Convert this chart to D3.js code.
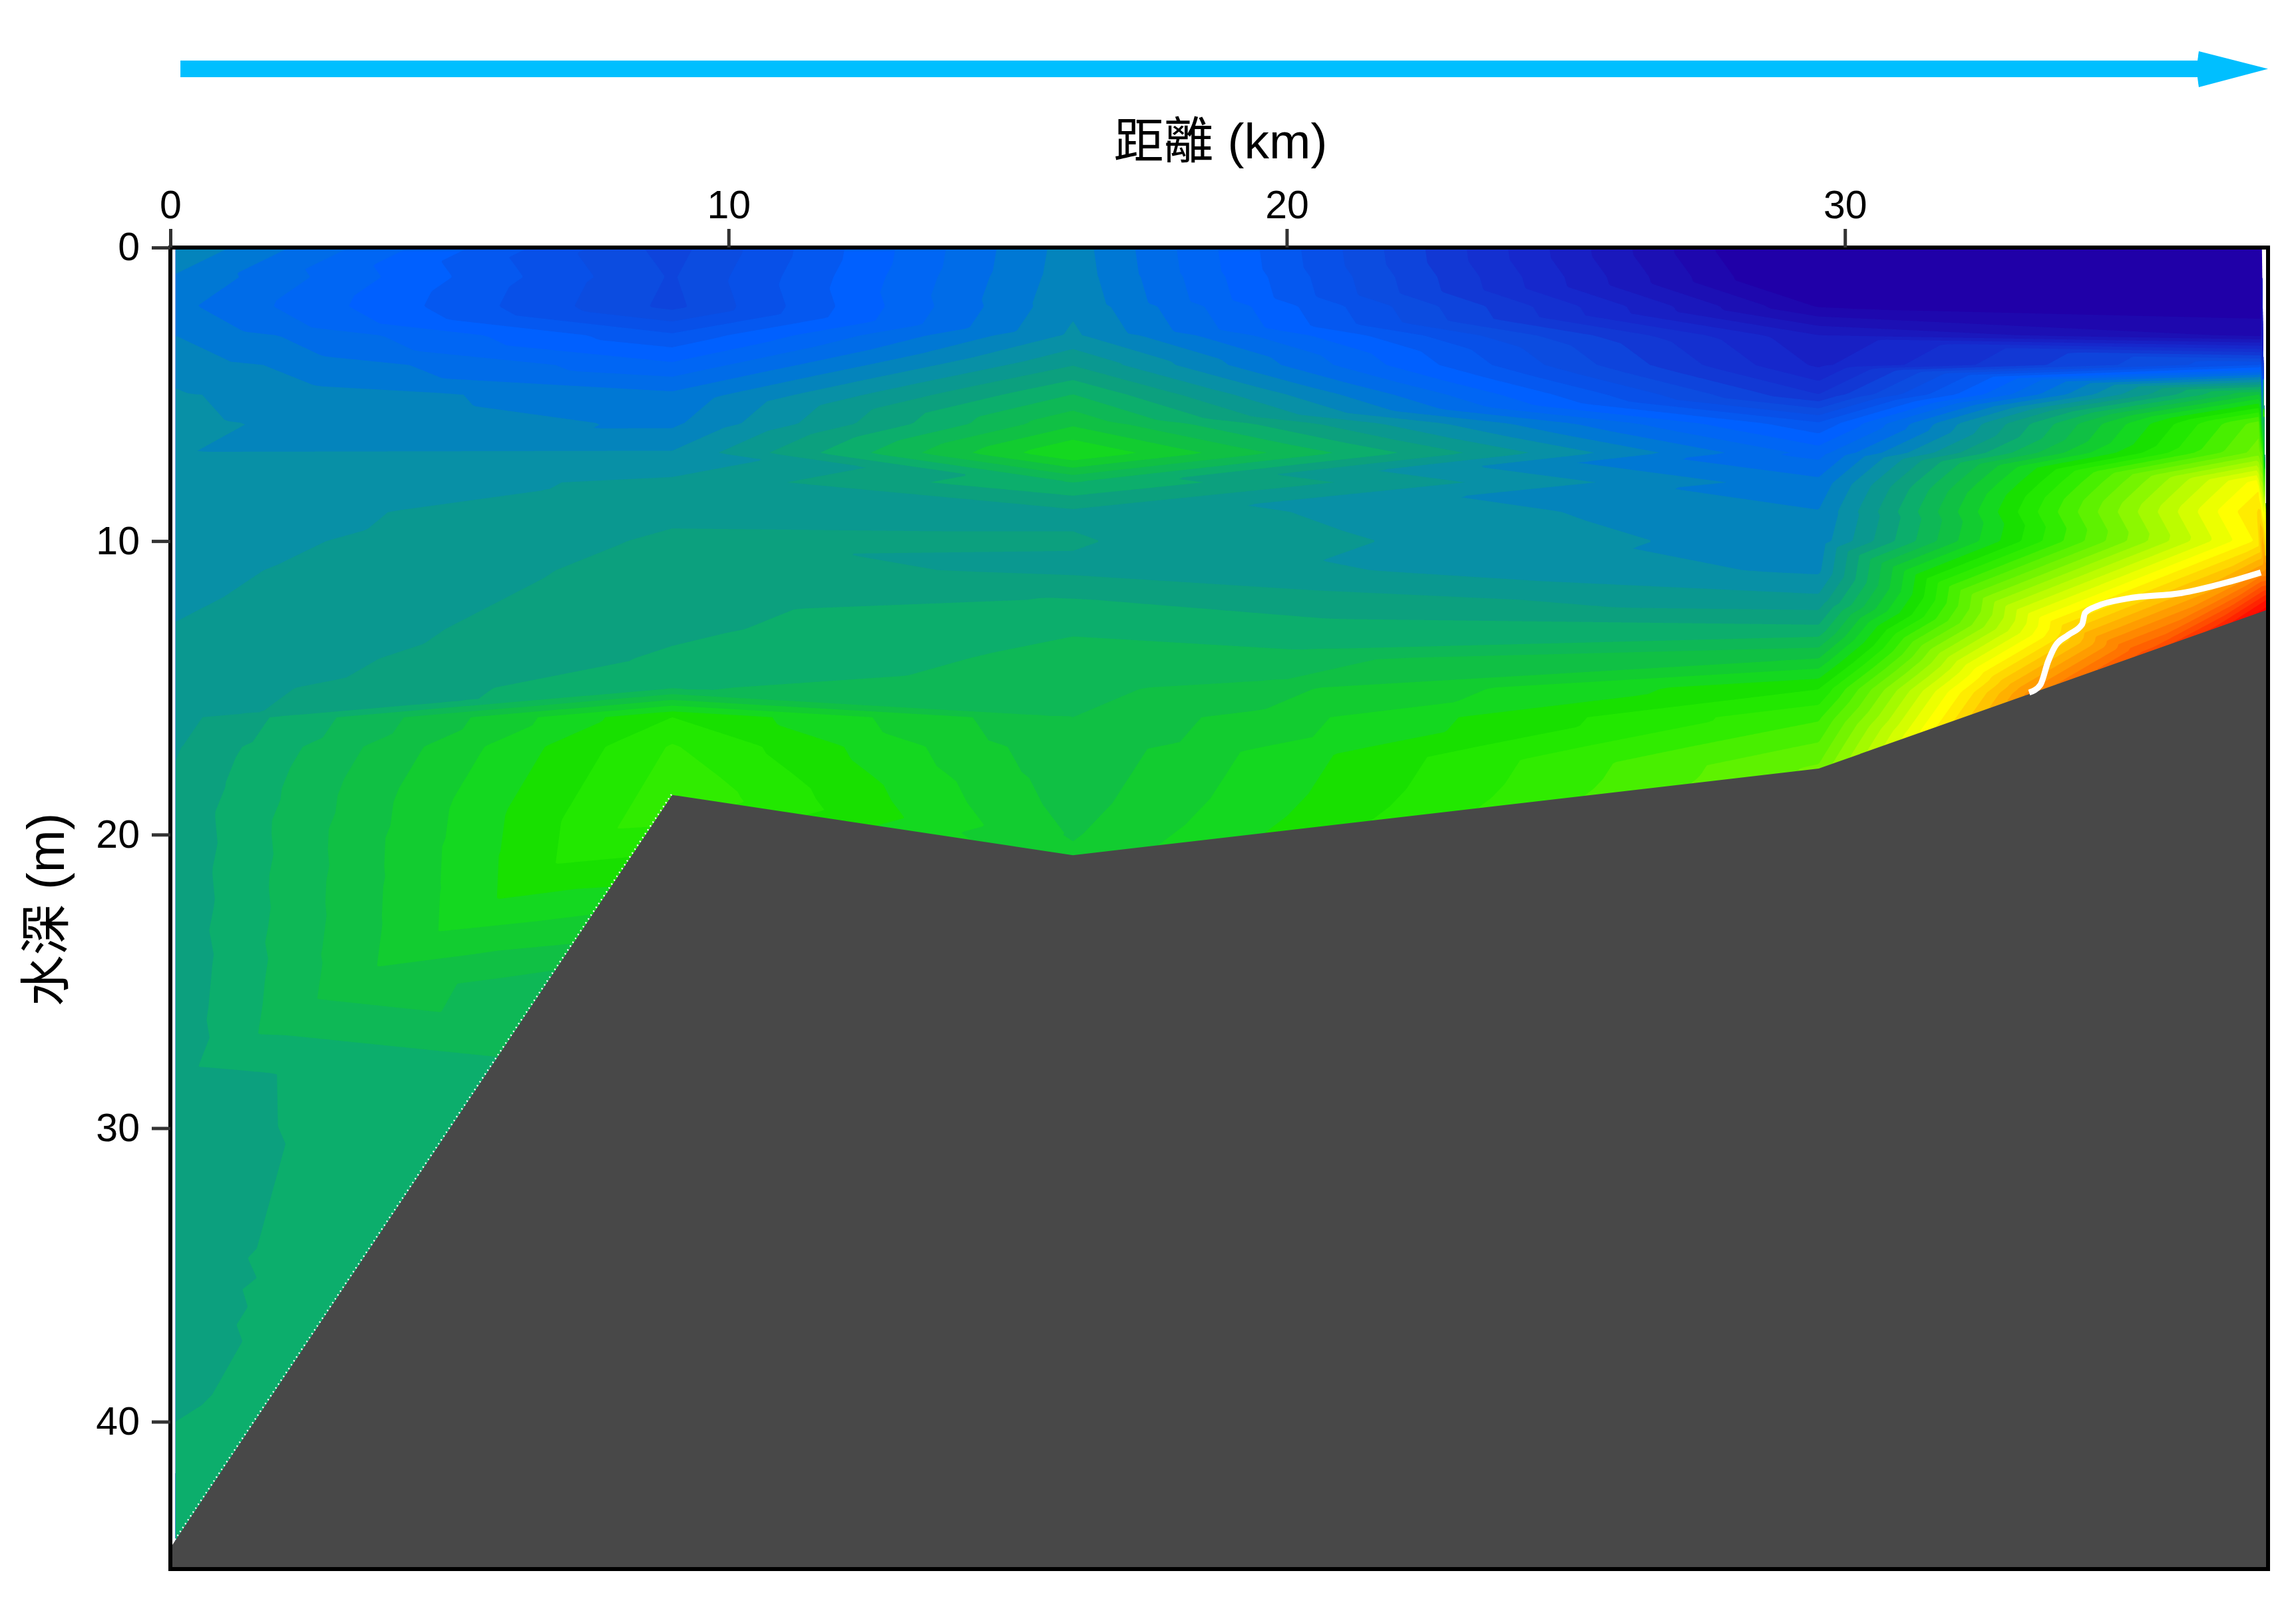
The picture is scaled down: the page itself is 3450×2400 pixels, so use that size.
<!DOCTYPE html>
<html>
<head>
<meta charset="utf-8">
<script src="https://cdn.jsdelivr.net/npm/d3@7"></script>
<style>
  body { margin: 0; background: #fff; }
  text { font-family: "Liberation Sans", "Noto Sans CJK TC", sans-serif; fill: #000; }
</style>
</head>
<body>
<div id="chart"></div>
<script>
// profile readings, one value per metre of depth starting at 0 m (band number of the colour scale)
const station1 = [16.9,15.9,15.3,16.0,16.6,17.1,17.2,17.05,17.3,17.4,17.5,17.7,17.85,18.05,18.2,18.4,18.6,18.9,19.1,19.3,19.25,19.35,19.3,19.4,19.3,19.35,19.4,19.3,19.2,19.5,19.4,19.55,19.5,19.6,19.5,19.65,19.6,19.7,19.65,19.8,20.0,20.2,20.3,20.3,20.3]
const station2 = [8.6,8.9,8.7,11.2,13.2,15.2,15.8,17.1,18.2,18.8,19.15,19.4,19.6,19.8,20.15,20.9,26.0,27.1,27.6]
const station3 = [16.5,16.6,16.8,17.2,18.95,21.0,22.8,25.0,21.0,18.8,19.1,18.8,20.05,20.9,21.3,21.6,22.0,22.2,22.4,22.6,22.9]
const station4 = [-1.5,-1.0,0.9,4.05,4.8,7.0,11.2,13.6,15.3,16.05,16.4,16.8,18.3,20.3,23.0,25.9,27.8,29.2]
const station5 = [0.3,0.3,0.4,1.8,11.0,23.0,29.5,30.5,36.5,38.0,37.2,41.5,48.0]
const stationX = [0.095, 8.99, 16.17, 29.53, 37.47]
const station5X = [37.47,37.47,37.47,37.47,37.44,37.44,37.41,37.41,37.39,37.39,37.39,37.39,37.55]
const bottomDepth = [44.25, 18.65, 20.7, 17.75, 12.37]
const bottomValue = [20.3, 27.9, 23.2, 30.2, 49.5]

// extra readings where the bands turn corners over the slopes
const extraX = [0.5,1.5,1.57,2.63,3.7,4.8,5.85,6.9,8.0, 6.58,6.96,7.28,7.63,7.95,8.3,8.66, 6.0,3.0,1.5, 31.3,33.35,35.4,36.6,37.55]
const extraDepth = [27.9,28.2,26.8,25.6,24.5,23.3,22.2,21.0,19.8, 25.65,24.6,23.7,22.7,21.77,20.75,19.73, 27.6,36.2,40.3, 16.6,15.2,13.85,13.05,11.1]
const extraValue = [20,19.9,21,22,23,24,25,26,27, 21,22,23,24,25,26,27, 21,20.5,20.4, 36,42.5,45.5,47.5,42.5]

// sea floor
const floorX = [0, 8.99, 16.17, 29.53, 37.58]
const floorDepth = [44.3, 18.65, 20.7, 17.75, 12.33]

// white contour near the bottom
const lineX = [33.3,33.5,33.64,33.76,34.0,34.25,34.3,34.54,35.05,36.03,36.86,37.45]
const lineDepth = [15.16,14.9,14.1,13.6,13.2,12.83,12.45,12.2,11.96,11.77,11.4,11.07]

const xTicks = [0, 10, 20, 30]
const yTicks = [0, 10, 20, 30, 40]

const bandColors = ['#2000a8','#1e08ae','#1c10b4','#1a18bc','#1820c4','#1628cc','#1430d0','#1238d4','#0e44dc','#0c4ce0',
  '#0850e8','#0558f0','#0060ff','#0066f4','#006ce8','#0078d4','#0484bc','#0890a6','#0a9890','#0ca07e',
  '#0cae6c','#0eb856','#10c044','#12cc30','#14d820','#18e000','#22e800','#30ec00','#48ef00','#5ef200',
  '#74f400','#8cf800','#a4fa00','#bcfc00','#d4fe00','#ecff00','#ffff00','#ffec00','#ffd800','#ffc400',
  '#ffb000','#ff9c00','#ff8800','#ff7400','#ff6000','#ff4c00','#ff3800','#ff2400','#ff1000','#ff0000']

const svg = d3.select('#chart').append('svg')
  .attr('width', 3450)
  .attr('height', 2400)

const x = d3.scaleLinear().domain([0, 37.58]).range([256, 3408])
const y = d3.scaleLinear().domain([0, 45.02]).range([372, 2358])

// collect all the readings as points
const nodes = []
const stations = [station1, station2, station3, station4, station5]
stations.forEach((vals, s) => {
  vals.forEach((v, depth) => {
    nodes.push([s === 4 ? station5X[depth] : stationX[s], depth, v])
  })
  nodes.push([s === 4 ? 37.55 : stationX[s], bottomDepth[s], bottomValue[s]])
})
extraX.forEach((ex, i) => nodes.push([ex, extraDepth[i], extraValue[i]]))

const delaunay = d3.Delaunay.from(nodes, d => d[0], d => d[1])

// linear interpolation over the triangles onto a grid for d3.contours
const nx = 1100, ny = 800
const dx = 37.58 / (nx - 1), dy = 45.02 / (ny - 1)
const grid = new Float64Array(nx * ny).fill(NaN)
const tri = delaunay.triangles
for (let t = 0; t < tri.length; t += 3) {
  const a = nodes[tri[t]], b = nodes[tri[t + 1]], c = nodes[tri[t + 2]]
  const det = (b[1] - c[1]) * (a[0] - c[0]) + (c[0] - b[0]) * (a[1] - c[1])
  if (Math.abs(det) < 1e-9) continue
  const i0 = Math.floor(Math.min(a[0], b[0], c[0]) / dx), i1 = Math.ceil(Math.max(a[0], b[0], c[0]) / dx)
  const j0 = Math.floor(Math.min(a[1], b[1], c[1]) / dy), j1 = Math.ceil(Math.max(a[1], b[1], c[1]) / dy)
  for (let j = Math.max(j0, 0); j <= Math.min(j1, ny - 1); j++) {
    for (let i = Math.max(i0, 0); i <= Math.min(i1, nx - 1); i++) {
      const px = i * dx, py = j * dy
      const w1 = ((b[1] - c[1]) * (px - c[0]) + (c[0] - b[0]) * (py - c[1])) / det
      const w2 = ((c[1] - a[1]) * (px - c[0]) + (a[0] - c[0]) * (py - c[1])) / det
      const w3 = 1 - w1 - w2
      if (w1 >= -1e-9 && w2 >= -1e-9 && w3 >= -1e-9) grid[i + j * nx] = w1 * a[2] + w2 * b[2] + w3 * c[2]
    }
  }
}
// outside the hull take the nearest reading, the clip hides it
let hint = 0
for (let j = 0; j < ny; j++) {
  for (let i = 0; i < nx; i++) {
    if (isNaN(grid[i + j * nx])) {
      hint = delaunay.find(i * dx, j * dy, hint)
      grid[i + j * nx] = nodes[hint][2]
    }
  }
}

const hull = delaunay.hullPolygon().map(p => [x(p[0]), y(p[1])])
svg.append('clipPath').attr('id', 'hull')
  .append('path')
  .attr('d', d3.line()(hull) + 'Z')

const gridPath = d3.geoPath(d3.geoTransform({
  point(gx, gy) {
    this.stream.point(x((gx - 0.5) * dx), y((gy - 0.5) * dy))
  }
}))

const field = svg.append('g').attr('clip-path', 'url(#hull)')
field.append('rect')
  .attr('x', x(0)).attr('y', y(0))
  .attr('width', x(37.58) - x(0)).attr('height', y(45.02) - y(0))
  .attr('fill', bandColors[0])

const thresholds = d3.range(1, bandColors.length)
const contours = d3.contours().size([nx, ny]).thresholds(thresholds)(grid)
field.selectAll('path.band')
  .data(contours)
  .join('path')
  .attr('class', 'band')
  .attr('d', gridPath)
  .attr('fill', d => bandColors[d.value])

// thin white line shows along the left slope
svg.append('line')
  .attr('x1', x(floorX[0])).attr('y1', y(floorDepth[0]))
  .attr('x2', x(floorX[1])).attr('y2', y(floorDepth[1]))
  .attr('stroke', '#fff')
  .attr('stroke-width', 5)
  .attr('stroke-dasharray', '2 5')

svg.append('path')
  .datum(floorX.map((fx, i) => [fx, floorDepth[i]]))
  .attr('d', d3.area().x(d => x(d[0])).y0(y(45.02)).y1(d => y(d[1])))
  .attr('fill', '#484848')

svg.append('path')
  .datum(lineX.map((lx, i) => [lx, lineDepth[i]]))
  .attr('d', d3.line().x(d => x(d[0])).y(d => y(d[1])).curve(d3.curveMonotoneX))
  .attr('fill', 'none')
  .attr('stroke', '#fff')
  .attr('stroke-width', 9)

// frame
svg.append('rect')
  .attr('x', x(0)).attr('y', y(0))
  .attr('width', x(37.58) - x(0)).attr('height', y(45.02) - y(0))
  .attr('fill', 'none')
  .attr('stroke', '#000')
  .attr('stroke-width', 6)

// axes
const xAxis = svg.append('g')
  .attr('transform', `translate(0,${y(0)})`)
  .call(d3.axisTop(x).tickValues(xTicks).tickSize(28).tickPadding(16))
const yAxis = svg.append('g')
  .attr('transform', `translate(${x(0)},0)`)
  .call(d3.axisLeft(y).tickValues(yTicks).tickSize(28).tickPadding(18))
for (const ax of [xAxis, yAxis]) {
  ax.attr('font-family', null)
  ax.select('.domain').remove()
  ax.selectAll('.tick line').attr('stroke', '#333').attr('stroke-width', 5)
  ax.selectAll('.tick text').attr('font-size', 59).attr('fill', '#000')
}

svg.append('text')
  .attr('x', 1834).attr('y', 238)
  .attr('text-anchor', 'middle')
  .attr('font-size', 75)
  .text('距離 (km)')

svg.append('text')
  .attr('transform', 'translate(96,1367) rotate(-90)')
  .attr('text-anchor', 'middle')
  .attr('font-size', 77)
  .text('水深 (m)')

// direction arrow
const arrowFrom = 0.18, arrowTo = 37.58
const arrowHead = 1.24
const ax0 = x(arrowFrom), ax1 = x(arrowTo), axb = x(arrowTo - arrowHead)
svg.append('rect')
  .attr('x', ax0).attr('y', 91)
  .attr('width', axb - ax0 + 4).attr('height', 25)
  .attr('fill', '#00bfff')
svg.append('path')
  .attr('d', `M${axb},77 L${ax1},103.5 L${axb},131 Q${axb - 5},104 ${axb},77Z`)
  .attr('fill', '#00bfff')
</script>
</body>
</html>
